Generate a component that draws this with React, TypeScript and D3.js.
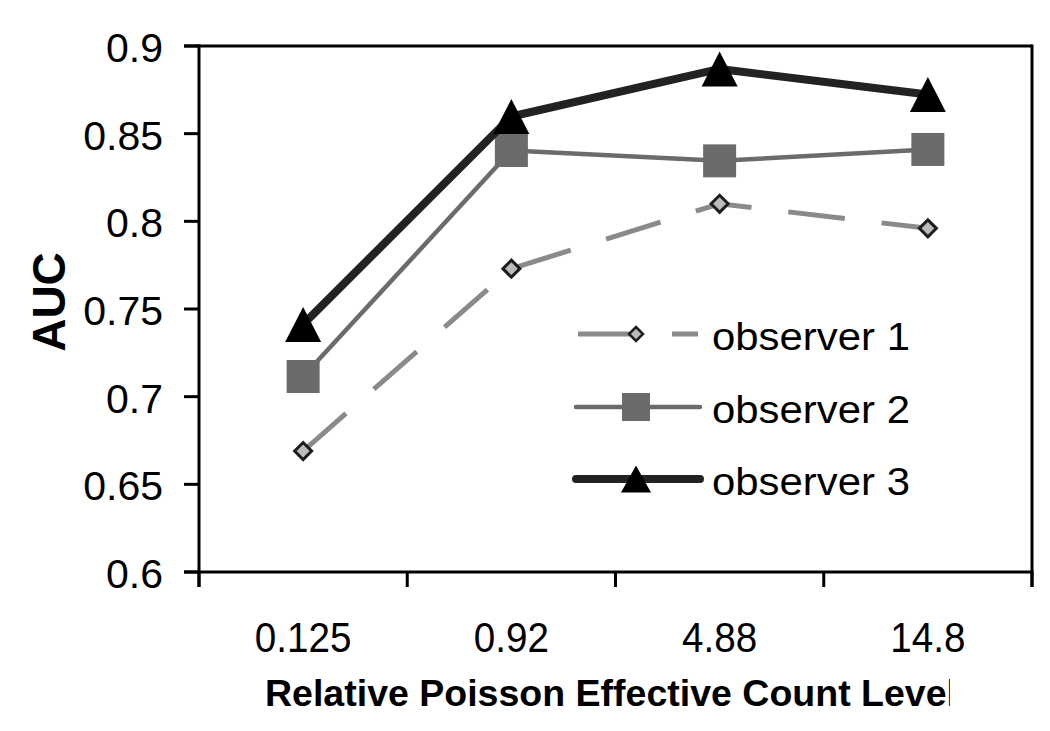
import React from "react";
import * as d3 from "d3";

const categories = ["0.125", "0.92", "4.88", "14.8"];
const observer1 = [0.669, 0.773, 0.81, 0.796];
const observer2 = [0.7115, 0.8404, 0.8345, 0.841];
const observer3 = [0.7412, 0.8598, 0.8869, 0.8723];
const yTicks = [0.6, 0.65, 0.7, 0.75, 0.8, 0.85, 0.9];
const seriesNames = ["observer 1", "observer 2", "observer 3"];

const W = 1050;
const H = 731;
const FONT = "'Liberation Sans', Arial, Helvetica, sans-serif";

export default function App() {
  const x = d3.scaleBand<string>().domain(categories).range([199, 1032]).padding(0);
  const y = d3.scaleLinear().domain([0.6, 0.9]).range([572, 46]);
  const cx = (c: string) => (x(c) as number) + x.bandwidth() / 2;

  const line = d3
    .line<number>()
    .x((_, i) => cx(categories[i]))
    .y((v) => y(v));

  const tri = (px: number, py: number, w: number, h: number) =>
    `M${px},${py - h / 2}L${px + w / 2},${py + h / 2}L${px - w / 2},${py + h / 2}Z`;
  const diamond = (px: number, py: number, r: number) =>
    `M${px},${py - r}L${px + r},${py}L${px},${py + r}L${px - r},${py}Z`;

  const bandEdges = [...categories.map((c) => x(c) as number), 1032];

  const legendRows = [334, 407, 479];
  const legendX0 = 578;
  const legendX1 = 698;
  const legendMid = 636;

  return (
    <svg
      width={W}
      height={H}
      style={{ position: "absolute", left: 0, top: 0, background: "#fff" }}
    >
      <defs>
        <clipPath id="titleclip">
          <rect x={0} y={660} width={950} height={71} />
        </clipPath>
      </defs>
      <rect x={0} y={0} width={W} height={H} fill="#fff" />

      {/* frame */}
      <g stroke="#000" strokeWidth={3} fill="none">
        <line x1={184} x2={1032} y1={y(0.9)} y2={y(0.9)} />
        <line x1={1032} x2={1032} y1={y(0.9) - 1.5} y2={587} />
        <line x1={199} x2={199} y1={y(0.9) - 1.5} y2={587} />
        <line x1={184} x2={1033.5} y1={y(0.6)} y2={y(0.6)} />
        {yTicks.map((t) => (
          <line key={t} x1={184} x2={199} y1={y(t)} y2={y(t)} />
        ))}
        {bandEdges.map((e, i) => (
          <line key={i} x1={e} x2={e} y1={y(0.6)} y2={587} />
        ))}
      </g>

      {/* y tick labels */}
      {yTicks.map((t) => (
        <text
          key={t}
          x={163}
          y={y(t) + 16}
          textAnchor="end"
          fontFamily={FONT}
          fontSize={41}
          fill="#000"
        >
          {String(t)}
        </text>
      ))}

      {/* x tick labels */}
      {categories.map((c) => (
        <text
          key={c}
          transform={`translate(${cx(c)},652) scale(0.92,1)`}
          textAnchor="middle"
          fontFamily={FONT}
          fontSize={42}
          fill="#000"
        >
          {c}
        </text>
      ))}

      {/* axis titles */}
      <g clipPath="url(#titleclip)">
        <text
          x={265}
          y={706}
          fontFamily={FONT}
          fontWeight="bold"
          fontSize={36}
          textLength={692}
          lengthAdjust="spacingAndGlyphs"
          fill="#000"
        >
          Relative Poisson Effective Count Level
        </text>
      </g>
      <text
        transform="translate(65,302) rotate(-90)"
        textAnchor="middle"
        fontFamily={FONT}
        fontWeight="bold"
        fontSize={46}
        fill="#000"
      >
        AUC
      </text>

      {/* observer 1 */}
      <path
        d={line(observer1) as string}
        fill="none"
        stroke="#8a8a8a"
        strokeWidth={5}
        strokeDasharray="57,37"
      />
      {observer1.map((v, i) => (
        <path
          key={i}
          d={diamond(cx(categories[i]), y(v), 8.5)}
          fill="#bcbcbc"
          stroke="#1e1e1e"
          strokeWidth={3}
        />
      ))}

      {/* observer 2 */}
      <path
        d={line(observer2) as string}
        fill="none"
        stroke="#6b6b6b"
        strokeWidth={4.5}
        strokeLinejoin="round"
      />
      {observer2.map((v, i) => (
        <rect
          key={i}
          x={cx(categories[i]) - 16.5}
          y={y(v) - 16.5}
          width={33}
          height={33}
          fill="#6b6b6b"
        />
      ))}

      {/* observer 3 */}
      <path
        d={line(observer3) as string}
        fill="none"
        stroke="#222"
        strokeWidth={8}
        strokeLinejoin="round"
      />
      {observer3.map((v, i) => (
        <path key={i} d={tri(cx(categories[i]), y(v), 36, 35)} fill="#000" />
      ))}

      {/* legend */}
      <g>
        <line
          x1={legendX0}
          x2={legendX1}
          y1={legendRows[0]}
          y2={legendRows[0]}
          stroke="#8a8a8a"
          strokeWidth={5}
          strokeDasharray="57,37"
        />
        <path
          d={diamond(legendMid, legendRows[0], 7)}
          fill="#bcbcbc"
          stroke="#1e1e1e"
          strokeWidth={2.5}
        />
        <line
          x1={legendX0 - 2}
          x2={legendX1 + 2}
          y1={legendRows[1]}
          y2={legendRows[1]}
          stroke="#6b6b6b"
          strokeWidth={4.5}
          strokeLinecap="round"
        />
        <rect
          x={legendMid - 14}
          y={legendRows[1] - 14}
          width={28}
          height={28}
          fill="#6b6b6b"
        />
        <line
          x1={legendX0 - 2}
          x2={legendX1 + 2}
          y1={legendRows[2]}
          y2={legendRows[2]}
          stroke="#222"
          strokeWidth={8}
          strokeLinecap="round"
        />
        <path d={tri(legendMid, legendRows[2], 30, 27)} fill="#000" />
        {seriesNames.map((n, i) => (
          <text
            key={n}
            x={712}
            y={legendRows[i] + 16}
            fontFamily={FONT}
            fontSize={39}
            textLength={198}
            lengthAdjust="spacingAndGlyphs"
            fill="#000"
          >
            {n}
          </text>
        ))}
      </g>
    </svg>
  );
}
